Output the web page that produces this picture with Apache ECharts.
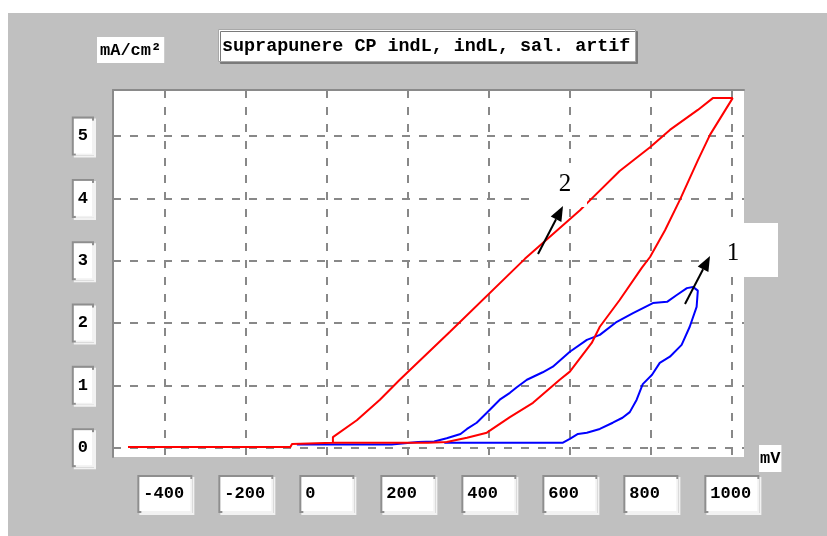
<!DOCTYPE html>
<html>
<head>
<meta charset="utf-8">
<script src="https://cdn.jsdelivr.net/npm/echarts@6/dist/echarts.min.js"></script>
<style>
  html, body { margin: 0; padding: 0; background: #ffffff; }
  #chart { width: 827px; height: 536px; }
</style>
</head>
<body>
<div id="chart"></div>
<script>
// Axis ticks (mV on x, mA/cm² on y)
const xTicks = [-400, -200, 0, 200, 400, 600, 800, 1000];
const yTicks = [0, 1, 2, 3, 4, 5];

// Curve 1 (blue): forward sweep then return sweep, [mV, mA/cm²]
const curve1 = [
  [-74, 0.05], [160, 0.05], [225, 0.09], [265, 0.10], [296, 0.15], [330, 0.22],
  [346, 0.30], [370, 0.40], [395, 0.56], [427, 0.77], [452, 0.88], [469, 0.97],
  [494, 1.09], [533, 1.21], [558, 1.30], [600, 1.54], [642, 1.73], [674, 1.81],
  [716, 2.02], [756, 2.16], [805, 2.32], [840, 2.34], [864, 2.45], [889, 2.56],
  [904, 2.58], [916, 2.52],
  [913, 2.26], [896, 1.94], [876, 1.65], [847, 1.46], [822, 1.36], [803, 1.17],
  [780, 1.02], [765, 0.77], [748, 0.57], [730, 0.48], [706, 0.40], [674, 0.30],
  [642, 0.24], [620, 0.22], [600, 0.14], [583, 0.08], [290, 0.08]
];

// Curve 2 (red): forward sweep then return sweep, [mV, mA/cm²]
const curve2 = [
  [-491, 0.01], [-90, 0.01], [-86, 0.06], [15, 0.08], [15, 0.17], [74, 0.44],
  [131, 0.77], [180, 1.09], [304, 1.86], [489, 3.03], [625, 3.81], [642, 3.92],
  [723, 4.44], [798, 4.82], [847, 5.10], [916, 5.42], [953, 5.61], [1002, 5.61],
  [946, 5.02], [916, 4.61], [872, 3.98], [835, 3.49], [798, 3.06], [778, 2.89],
  [723, 2.37], [674, 1.94], [654, 1.68], [600, 1.22], [575, 1.09], [509, 0.72],
  [452, 0.49], [395, 0.24], [346, 0.16], [296, 0.09], [250, 0.08], [15, 0.08]
];

const titleText = 'suprapunere CP indL, indL, sal. artif';
const yUnit = 'mA/cm²';
const xUnit = 'mV';
const curveTags = ['1', '2'];

const MONO = '"Liberation Mono", "DejaVu Sans Mono", monospace';

// Pointer arrow: shaft plus filled head, in screen pixels
function arrow(x1, y1, x2, y2) {
  const a = Math.atan2(y2 - y1, x2 - x1);
  const L = 15, W = 6;
  const bx = x2 - L * Math.cos(a), by = y2 - L * Math.sin(a);
  const nx = -Math.sin(a), ny = Math.cos(a);
  return [
    { type: 'line', z: 120, shape: { x1: x1, y1: y1, x2: bx, y2: by },
      style: { stroke: '#000', lineWidth: 2 } },
    { type: 'polygon', z: 120,
      shape: { points: [[x2, y2], [bx + W * nx, by + W * ny], [bx - W * nx, by - W * ny]] },
      style: { fill: '#000' } }
  ];
}

const boxLabel = {
  color: '#000',
  fontFamily: MONO,
  fontSize: 17,
  fontWeight: 'bold',
  backgroundColor: '#ffffff',
  borderColor: '#8e8e8e',
  borderWidth: 2,
  shadowColor: '#f2f2f2',
  shadowOffsetX: 2,
  shadowOffsetY: 2,
  shadowBlur: 0
};

const chart = echarts.init(document.getElementById('chart'), null, { renderer: 'canvas' });

chart.setOption({
  animation: false,
  backgroundColor: '#c0c0c0',
  title: [
    {
      text: titleText, left: 218, top: 29,
      padding: [8, 5, 7, 4],
      backgroundColor: '#ffffff', borderColor: '#a8a8a8', borderWidth: 1,
      shadowColor: '#7a7a7a', shadowOffsetX: 2, shadowOffsetY: 2, shadowBlur: 0,
      textStyle: { fontFamily: MONO, fontSize: 18.4, fontWeight: 'bold', color: '#000' }
    },
    {
      text: yUnit, left: 97, top: 37,
      padding: [5, 3, 4, 3], backgroundColor: '#ffffff',
      textStyle: { fontFamily: MONO, fontSize: 17, fontWeight: 'bold', color: '#000' }
    },
    {
      text: xUnit, left: 759, top: 445,
      padding: [5, 1, 5, 1], backgroundColor: '#ffffff',
      textStyle: { fontFamily: MONO, fontSize: 17, fontWeight: 'bold', color: '#000' }
    }
  ],
  grid: {
    left: 113, top: 90, width: 631, height: 367,
    show: true, backgroundColor: '#ffffff', borderWidth: 0
  },
  xAxis: [
    {
      type: 'value', min: -528, max: 1030, position: 'bottom',
      axisLine: { show: false },
      axisTick: { show: false, customValues: xTicks },
      splitLine: { show: true, lineStyle: { color: '#888888', width: 2, type: [8, 9] } },
      axisLabel: Object.assign({}, boxLabel, {
        customValues: xTicks,
        margin: 20,
        align: 'center',
        padding: [8, 2, 8, 4],
        formatter: function (v) { return '{t|' + v + '}'; },
        rich: { t: { width: 45, align: 'left', lineHeight: 18, fontFamily: MONO, fontSize: 17, fontWeight: 'bold', color: '#000' } }
      })
    },
    {
      type: 'value', min: -528, max: 1030, position: 'top',
      axisLine: { show: true, onZero: false, lineStyle: { color: '#8a8a8a', width: 2 } },
      axisTick: { show: false }, axisLabel: { show: false }, splitLine: { show: false }
    }
  ],
  yAxis: {
    type: 'value', min: -0.15, max: 5.74,
    axisLine: { show: true, onZero: false, lineStyle: { color: '#8a8a8a', width: 2 } },
    axisTick: { show: false, customValues: yTicks },
    splitLine: { show: true, lineStyle: { color: '#888888', width: 2, type: [8, 9] } },
    axisLabel: Object.assign({}, boxLabel, {
      customValues: yTicks,
      margin: 21,
      padding: [9, 4, 8, 4],
      lineHeight: 18
    })
  },
  series: [
    {
      name: curveTags[0], type: 'line', data: curve1, showSymbol: false, symbol: 'none',
      lineStyle: { color: '#0000ff', width: 2 }, z: 3
    },
    {
      name: curveTags[1], type: 'line', data: curve2, showSymbol: false, symbol: 'none',
      lineStyle: { color: '#ff0000', width: 2 }, z: 4
    }
  ],
  graphic: [
    // white page margin above and left of the panel
    { type: 'rect', z: 100, shape: { x: 0, y: 0, width: 827, height: 13 }, style: { fill: '#ffffff' } },
    { type: 'rect', z: 100, shape: { x: 0, y: 0, width: 8, height: 536 }, style: { fill: '#ffffff' } },
    // curve tags on white patches
    { type: 'rect', z: 110, shape: { x: 538, y: 163, width: 49, height: 44 }, style: { fill: '#ffffff' } },
    { type: 'text', z: 115, style: { text: curveTags[1], x: 565, y: 184, align: 'center', verticalAlign: 'middle',
      font: '25px "Liberation Serif", serif', fill: '#000' } },
    { type: 'rect', z: 110, shape: { x: 705, y: 223, width: 73, height: 54 }, style: { fill: '#ffffff' } },
    { type: 'text', z: 115, style: { text: curveTags[0], x: 733, y: 253, align: 'center', verticalAlign: 'middle',
      font: '25px "Liberation Serif", serif', fill: '#000' } }
  ].concat(arrow(538, 254, 563, 206), arrow(685, 304, 710, 256))
});
</script>
</body>
</html>
